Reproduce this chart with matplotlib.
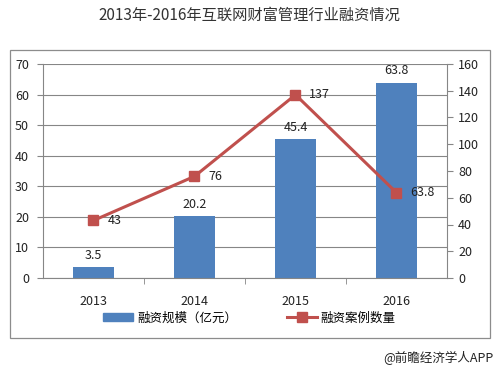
import matplotlib
matplotlib.use("Agg")
import matplotlib.pyplot as plt
from matplotlib.patches import Rectangle
from matplotlib.lines import Line2D
from matplotlib.patches import Patch

plt.rcParams['font.family'] = ['Noto Sans CJK SC', 'DejaVu Sans']

years = ['2013', '2014', '2015', '2016']
funding = [3.5, 20.2, 45.4, 63.8]
deals = [43, 76, 137, 63.8]
deal_labels = ['43', '76', '137', '63.8']
title = '2013年-2016年互联网财富管理行业融资情况'
legend_bar = '融资规模（亿元）'
legend_line = '融资案例数量'
source = '@前瞻经济学人APP'

BLUE = '#4F81BD'
RED = '#C0504D'
GRID = '#868686'
TXT = '#222222'

fig = plt.figure(figsize=(4.99, 3.71), dpi=100)
fig.patch.set_facecolor('white')

# outer chart border
fig.patches.append(Rectangle((10/499, 1-338/371), 480/499, 288/371, transform=fig.transFigure,
                             fill=False, edgecolor='#8c8c8c', linewidth=0.9))

ax = fig.add_axes([43/499, 1-278/371, 404/499, 214/371])
x = list(range(len(years)))
ax.bar(x, funding, width=0.4, color=BLUE, zorder=2)
ax.set_xlim(-0.5, len(years)-0.5)
ax.set_ylim(0, 70)
ax.set_yticks(range(0, 71, 10))
ax.yaxis.grid(True, color=GRID, linewidth=0.8)
ax.set_axisbelow(True)
for s in ['top', 'right']:
    ax.spines[s].set_visible(False)
ax.spines['left'].set_color(GRID)
ax.spines['bottom'].set_color(GRID)
ax.set_xticks(x)
ax.set_xticklabels(years)
ax.tick_params(axis='x', length=0, pad=12, labelsize=9, colors=TXT)
ax.set_xticks([i+0.5 for i in range(len(years)-1)], minor=True)
ax.tick_params(axis='x', which='minor', length=4, color=GRID, direction='out')
ax.tick_params(axis='y', length=4, color=GRID, labelsize=9, labelcolor=TXT, pad=6)
for xi, v in zip(x, funding):
    ax.annotate(f'{v}', (xi, v), xytext=(0, 4), textcoords='offset points',
                ha='center', va='bottom', fontsize=9, color=TXT)

ax2 = ax.twinx()
ax2.set_ylim(0, 160)
ax2.set_yticks(range(0, 161, 20))
for s in ['top', 'left', 'bottom']:
    ax2.spines[s].set_visible(False)
ax2.spines['right'].set_color(GRID)
ax2.tick_params(axis='y', length=4, color=GRID, labelsize=9, labelcolor=TXT, pad=4)
ax2.plot(x, deals, color=RED, linewidth=2.2, marker='s', markersize=7,
         markerfacecolor=RED, markeredgecolor=RED, zorder=3)
for xi, v, lab in zip(x, deals, deal_labels):
    ax2.annotate(lab, (xi, v), xytext=(10, 0), textcoords='offset points',
                 ha='left', va='center', fontsize=9, color=TXT)

fig.text(0.5, 1-15/371, title, ha='center', va='center', fontsize=11, color='#333333')

handles = [Patch(facecolor=BLUE, edgecolor=BLUE),
           Line2D([0], [0], color=RED, linewidth=2.2, marker='s', markersize=7)]
fig.legend(handles, [legend_bar, legend_line], loc='center', bbox_to_anchor=(0.5, 1-318/371),
           ncol=2, frameon=False, fontsize=9, handlelength=2.4, handleheight=0.6,
           columnspacing=4, handletextpad=0.3)

fig.text(493/499, 1-358/371, source, ha='right', va='center', fontsize=9, color='#222222')

fig.savefig('out.png', dpi=100)
